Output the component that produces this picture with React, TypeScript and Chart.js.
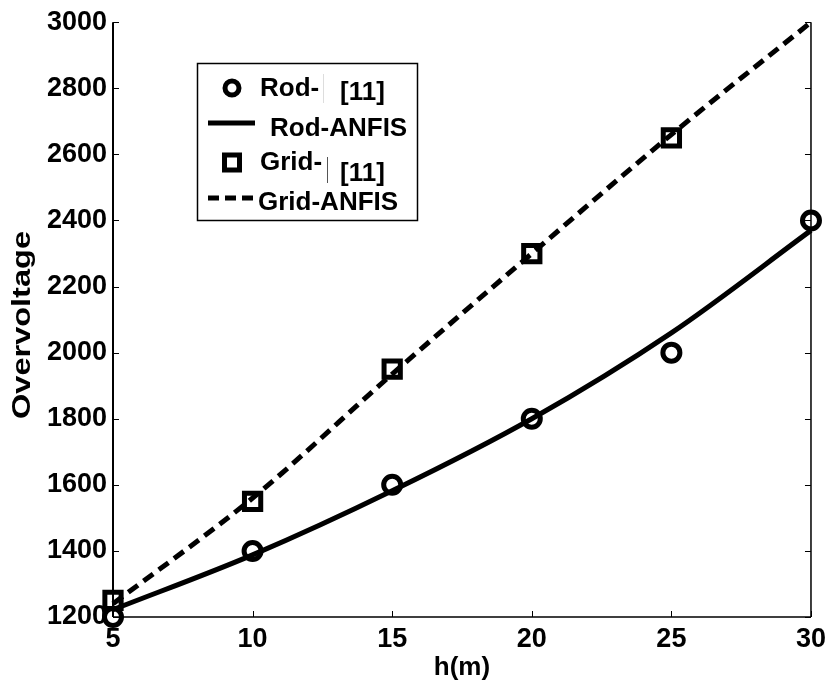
import React, { useEffect, useRef } from "react";
import { Chart, registerables } from "chart.js";

Chart.register(...registerables);

// ---- data ----
const hValues = [5, 10, 15, 20, 25, 30];
const rodRef = [1200, 1400, 1600, 1800, 2000, 2400];
const rodAnfis = [1222, 1388, 1582, 1800, 2060, 2370];
const gridHValues = [5, 10, 15, 20, 25];
const gridRef = [1250, 1550, 1950, 2300, 2650];
const gridAnfis = [1240, 1560, 1935, 2300, 2660, 3000];
const xTickValues = [5, 10, 15, 20, 25, 30];
const yTickValues = [1200, 1400, 1600, 1800, 2000, 2200, 2400, 2600, 2800, 3000];

const xTitle = "h(m)";
const yTitle = "Overvoltage";
const legendRows = {
  rodRef: ["Rod-", "[11]"],
  rodAnfis: "Rod-ANFIS",
  gridRef: ["Grid-", "[11]"],
  gridAnfis: "Grid-ANFIS",
};

const FONT = "'Liberation Sans', Arial, Helvetica, sans-serif";

const pts = (xs: number[], ys: number[]) => xs.map((x, i) => ({ x, y: ys[i] }));

const framePlugin = {
  id: "matlabFrame",
  beforeDatasetsDraw(chart: any) {
    const { ctx, chartArea: a, scales } = chart;
    ctx.save();
    ctx.strokeStyle = "#000";
    ctx.lineCap = "butt";
    // left axis
    ctx.lineWidth = 2;
    ctx.beginPath();
    ctx.moveTo(a.left, a.top);
    ctx.lineTo(a.left, a.bottom);
    ctx.stroke();
    // bottom & right
    ctx.lineWidth = 1.5;
    ctx.beginPath();
    ctx.moveTo(a.left, a.bottom);
    ctx.lineTo(a.right, a.bottom);
    ctx.moveTo(a.right, a.top);
    ctx.lineTo(a.right, a.bottom);
    ctx.stroke();
    // ticks
    ctx.lineWidth = 1;
    ctx.beginPath();
    yTickValues.forEach((v) => {
      const y = Math.round(scales.y.getPixelForValue(v)) + 0.5;
      ctx.moveTo(a.left, y);
      ctx.lineTo(a.left + 6, y);
      ctx.moveTo(a.right, y);
      ctx.lineTo(a.right - 6, y);
    });
    xTickValues.forEach((v) => {
      const x = Math.round(scales.x.getPixelForValue(v)) + 0.5;
      ctx.moveTo(x, a.bottom);
      ctx.lineTo(x, a.bottom - 6);
    });
    ctx.stroke();
    ctx.restore();
  },
  afterDraw(chart: any) {
    const { ctx, chartArea: a } = chart;
    ctx.save();
    ctx.fillStyle = "#000";
    // axis titles
    ctx.font = `bold 26px ${FONT}`;
    ctx.textAlign = "center";
    ctx.textBaseline = "middle";
    ctx.fillText(xTitle, (a.left + a.right) / 2, 668);
    ctx.save();
    ctx.translate(23, 325);
    ctx.rotate(-Math.PI / 2);
    ctx.font = `bold 25px ${FONT}`;
    const w = ctx.measureText(yTitle).width;
    ctx.scale(188 / w, 1);
    ctx.fillText(yTitle, 0, 0);
    ctx.restore();

    // legend box
    ctx.fillStyle = "#fff";
    ctx.fillRect(197.5, 63.5, 220, 157);
    ctx.strokeStyle = "#000";
    ctx.lineWidth = 1.5;
    ctx.strokeRect(197.5, 63.5, 220, 157);

    ctx.fillStyle = "#000";
    ctx.textAlign = "left";
    ctx.textBaseline = "middle";
    ctx.font = `bold 26px ${FONT}`;

    // row 1: circle marker
    ctx.lineWidth = 5;
    ctx.beginPath();
    ctx.arc(232, 88, 7, 0, Math.PI * 2);
    ctx.stroke();
    ctx.fillText(legendRows.rodRef[0], 260, 89);
    ctx.fillText(legendRows.rodRef[1], 340, 93);
    ctx.strokeStyle = "#ddd";
    ctx.lineWidth = 1;
    ctx.beginPath();
    ctx.moveTo(323.5, 74);
    ctx.lineTo(323.5, 103);
    ctx.stroke();

    // row 2: solid line
    ctx.strokeStyle = "#000";
    ctx.lineWidth = 5;
    ctx.beginPath();
    ctx.moveTo(208, 123);
    ctx.lineTo(255, 123);
    ctx.stroke();
    ctx.fillText(legendRows.rodAnfis, 270, 129);

    // row 3: square marker
    ctx.lineWidth = 5;
    ctx.strokeRect(224.5, 155, 15, 15);
    ctx.fillText(legendRows.gridRef[0], 260, 163);
    ctx.fillText(legendRows.gridRef[1], 340, 174);
    ctx.strokeStyle = "#555";
    ctx.lineWidth = 1;
    ctx.beginPath();
    ctx.moveTo(327.5, 157);
    ctx.lineTo(327.5, 183);
    ctx.stroke();

    // row 4: dashed line
    ctx.strokeStyle = "#000";
    ctx.lineWidth = 5;
    ctx.setLineDash([11, 6]);
    ctx.beginPath();
    ctx.moveTo(208, 198);
    ctx.lineTo(256, 198);
    ctx.stroke();
    ctx.setLineDash([]);
    ctx.fillText(legendRows.gridAnfis, 258, 203);

    ctx.restore();
  },
};

export default function App() {
  const ref = useRef<HTMLCanvasElement | null>(null);

  useEffect(() => {
    if (!ref.current) return;
    const chart = new Chart(ref.current, {
      type: "scatter",
      data: {
        datasets: [
          {
            label: "Rod-ANFIS",
            data: pts(hValues, rodAnfis),
            showLine: true,
            borderColor: "#000",
            borderWidth: 5,
            pointRadius: 0,
            cubicInterpolationMode: "monotone",
            order: 3,
          },
          {
            label: "Grid-ANFIS",
            data: pts(hValues, gridAnfis),
            showLine: true,
            borderColor: "#000",
            borderWidth: 5,
            borderDash: [12, 7],
            pointRadius: 0,
            cubicInterpolationMode: "monotone",
            order: 4,
          },
          {
            label: "Rod- [11]",
            data: pts(hValues, rodRef),
            showLine: false,
            pointStyle: "circle",
            pointRadius: 8.5,
            pointBorderWidth: 5,
            pointBorderColor: "#000",
            pointBackgroundColor: "rgba(255,255,255,0)",
            order: 1,
          },
          {
            label: "Grid- [11]",
            data: pts(gridHValues, gridRef),
            showLine: false,
            pointStyle: "rect",
            pointRadius: 11.5,
            pointBorderWidth: 5,
            pointBorderColor: "#000",
            pointBackgroundColor: "rgba(255,255,255,0)",
            order: 2,
          },
        ],
      },
      options: {
        animation: false,
        responsive: true,
        maintainAspectRatio: false,
        clip: false,
        layout: { padding: { left: 0, right: 17, top: 20, bottom: 0 } },
        plugins: {
          legend: { display: false },
          tooltip: { enabled: false },
        },
        scales: {
          x: {
            type: "linear",
            min: 5,
            max: 30,
            afterFit: (s: any) => {
              s.height = 74;
            },
            afterBuildTicks: (s: any) => {
              s.ticks = xTickValues.map((v) => ({ value: v }));
            },
            ticks: {
              color: "#000",
              font: { family: FONT, size: 27, weight: "bold" },
              padding: 6,
              maxRotation: 0,
              callback: (v: any) => String(v),
            },
            grid: { display: false, drawTicks: false },
            border: { display: false },
          },
          y: {
            type: "linear",
            min: 1200,
            max: 3000,
            afterFit: (s: any) => {
              s.width = 113;
            },
            afterBuildTicks: (s: any) => {
              s.ticks = yTickValues.map((v) => ({ value: v }));
            },
            ticks: {
              color: "#000",
              font: { family: FONT, size: 27, weight: "bold" },
              padding: 6,
              callback: (v: any) => String(v),
            },
            grid: { display: false, drawTicks: false },
            border: { display: false },
          },
        },
      } as any,
      plugins: [framePlugin],
    });
    return () => chart.destroy();
  }, []);

  return (
    <div style={{ position: "absolute", left: 0, top: 0, width: 832, height: 691, background: "#fff" }}>
      <canvas ref={ref} />
    </div>
  );
}
